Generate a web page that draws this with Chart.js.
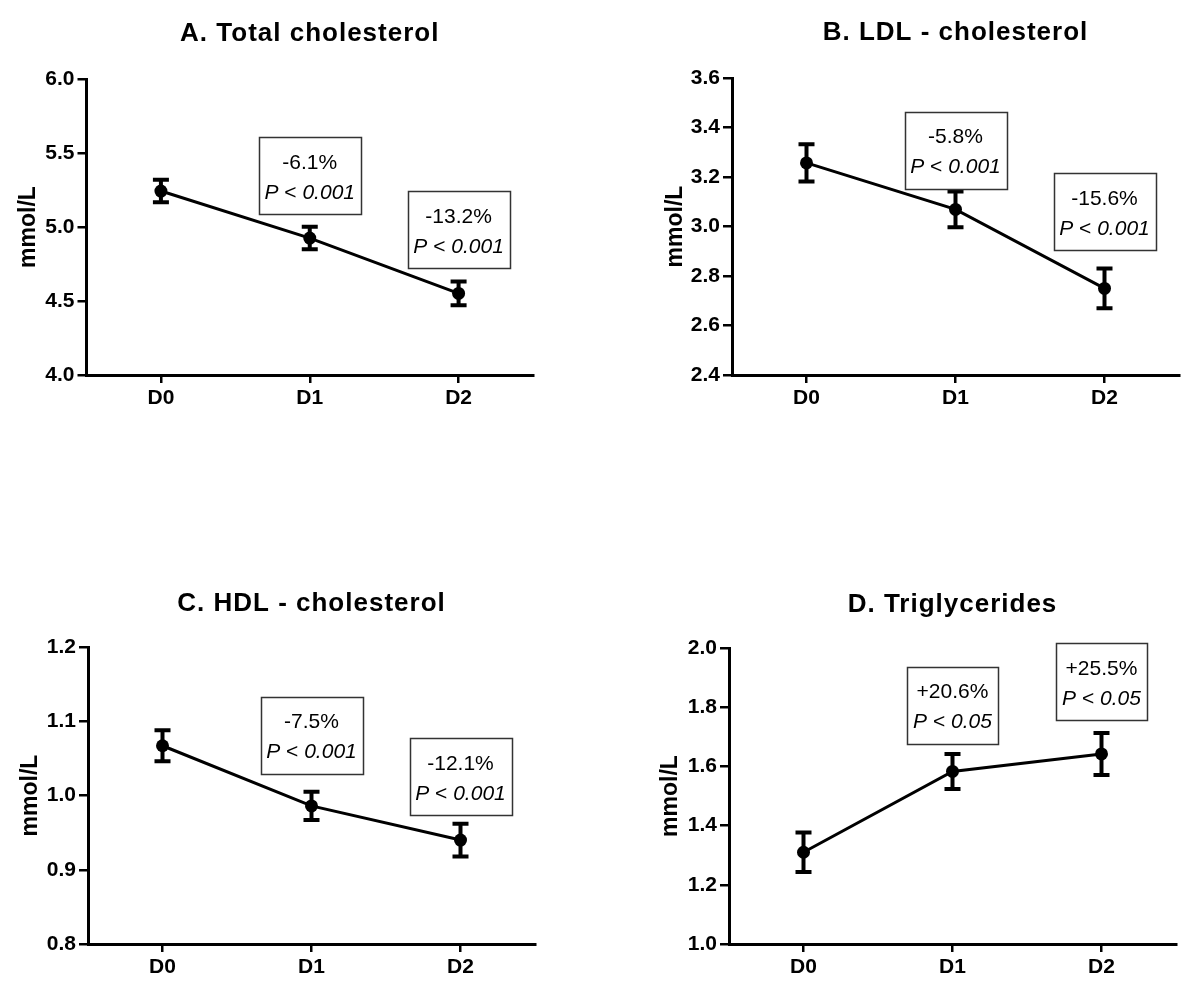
<!DOCTYPE html>
<html><head><meta charset="utf-8">
<script src="https://cdn.jsdelivr.net/npm/chart.js@4/dist/chart.umd.min.js"></script>
<style>
html,body{margin:0;padding:0;background:#fff;}
#wrap{position:relative;width:1200px;height:992px;background:#fff;overflow:hidden;}
canvas{position:absolute;}
</style></head><body><div id="wrap">
<canvas id="cA" width="600" height="440"></canvas>
<canvas id="cB" width="600" height="440"></canvas>
<canvas id="cC" width="600" height="432"></canvas>
<canvas id="cD" width="600" height="432"></canvas>
</div>
<script>
// ---------- data ----------
const categories = ['D0', 'D1', 'D2'];
const panelTitles = ['A. Total cholesterol', 'B. LDL - cholesterol', 'C. HDL - cholesterol', 'D. Triglycerides'];
const yAxisTitle = 'mmol/L';

const totalMean = [5.243, 4.925, 4.551];
const totalSem  = [0.076, 0.076, 0.080];
const ldlMean   = [3.257, 3.069, 2.750];
const ldlSem    = [0.075, 0.072, 0.080];
const hdlMean   = [1.067, 0.986, 0.940];
const hdlSem    = [0.021, 0.019, 0.022];
const tgMean    = [1.310, 1.583, 1.642];
const tgSem     = [0.067, 0.059, 0.071];

const totalTicks = ['4.0', '4.5', '5.0', '5.5', '6.0'];
const ldlTicks   = ['2.4', '2.6', '2.8', '3.0', '3.2', '3.4', '3.6'];
const hdlTicks   = ['0.8', '0.9', '1.0', '1.1', '1.2'];
const tgTicks    = ['1.0', '1.2', '1.4', '1.6', '1.8', '2.0'];

const totalChange = ['', '-6.1%', '-13.2%'];
const totalP      = ['', '0.001', '0.001'];
const ldlChange   = ['', '-5.8%', '-15.6%'];
const ldlP        = ['', '0.001', '0.001'];
const hdlChange   = ['', '-7.5%', '-12.1%'];
const hdlP        = ['', '0.001', '0.001'];
const tgChange    = ['', '+20.6%', '+25.5%'];
const tgP         = ['', '0.05', '0.05'];

// ---------- layout (positions, not data) ----------
const FONT = "'Liberation Sans', Arial, Helvetica, sans-serif";
const layoutA = {left: 0,   top: 0,   H: 440, plotLeft: 86.5, plotRight: 533, plotTop: 79, plotBottom: 375, yTitleX: 29, titleGap: 45, boxY: [null, 5.345, 4.98]};
const layoutB = {left: 600, top: 0,   H: 440, plotLeft: 132,  plotRight: 579, plotTop: 78, plotBottom: 375, yTitleX: 76, titleGap: 45, boxY: [null, 3.309, 3.059]};
const layoutC = {left: 0,   top: 560, H: 432, plotLeft: 88,   plotRight: 535, plotTop: 87, plotBottom: 384, yTitleX: 31, titleGap: 43, boxY: [null, 1.081, 1.025]};
const layoutD = {left: 600, top: 560, H: 432, plotLeft: 129,  plotRight: 576, plotTop: 88, plotBottom: 384, yTitleX: 71, titleGap: 43, boxY: [null, 1.807, 1.886]};

const errorBarPlugin = {
  id: 'errorBars',
  afterDatasetsDraw(chart, args, opts) {
    const ctx = chart.ctx, xs = chart.scales.x, ys = chart.scales.y;
    ctx.save();
    ctx.strokeStyle = '#000';
    opts.mean.forEach((m, i) => {
      const x = xs.getPixelForValue(i);
      const yt = ys.getPixelForValue(m + opts.sem[i]);
      const yb = ys.getPixelForValue(m - opts.sem[i]);
      ctx.lineWidth = 4;
      ctx.beginPath(); ctx.moveTo(x, yt); ctx.lineTo(x, yb); ctx.stroke();
      ctx.lineWidth = 4;
      ctx.beginPath();
      ctx.moveTo(x - 8, yt); ctx.lineTo(x + 8, yt);
      ctx.moveTo(x - 8, yb); ctx.lineTo(x + 8, yb);
      ctx.stroke();
    });
    ctx.restore();
  }
};

const annotPlugin = {
  id: 'annotBoxes',
  afterDraw(chart, args, opts) {
    const ctx = chart.ctx, xs = chart.scales.x, ys = chart.scales.y;
    ctx.save();
    opts.change.forEach((txt, i) => {
      if (!txt) return;
      const cx = xs.getPixelForValue(i);
      const cy = ys.getPixelForValue(opts.boxY[i]);
      const reg = '21px ' + FONT, ita = 'italic 21px ' + FONT;
      ctx.font = ita; const wP = ctx.measureText('P').width; const wV = ctx.measureText(opts.p[i]).width;
      ctx.font = reg; const wL = ctx.measureText(' < ').width;
      const tw = wP + wL + wV;
      const bw = Math.round(tw + 12), bh = 77;
      ctx.strokeStyle = '#333'; ctx.lineWidth = 1.5;
      ctx.strokeRect(Math.round(cx - bw / 2) + 0.5, Math.round(cy - bh / 2) + 0.5, bw, bh);
      ctx.fillStyle = '#000';
      ctx.textBaseline = 'middle';
      ctx.textAlign = 'center';
      ctx.font = reg;
      ctx.fillText(txt, cx, cy - 13);
      ctx.textAlign = 'left';
      let x0 = cx - tw / 2;
      const y2 = cy + 17;
      ctx.font = ita; ctx.fillText('P', x0, y2); x0 += wP;
      ctx.font = reg; ctx.fillText(' < ', x0, y2); x0 += wL;
      ctx.font = ita; ctx.fillText(opts.p[i], x0, y2);
    });
    ctx.restore();
  }
};

const titlePlugin = {
  id: 'panelTitle',
  afterDraw(chart, args, opts) {
    const ctx = chart.ctx, a = chart.chartArea;
    ctx.save();
    ctx.font = 'bold 26px ' + FONT;
    try { ctx.letterSpacing = '1px'; } catch (e) {}
    ctx.fillStyle = '#000';
    ctx.textAlign = 'center';
    ctx.textBaseline = 'middle';
    ctx.fillText(opts.text, (a.left + a.right) / 2, a.top - opts.gap);
    ctx.restore();
  }
};

function makePanel(id, L, title, mean, sem, tickLabels, change, pvals) {
  const cv = document.getElementById(id);
  cv.style.left = L.left + 'px';
  cv.style.top = L.top + 'px';
  const yTitleSize = 23, yTitleLH = yTitleSize * 1.2;
  const padLeft = L.yTitleX - yTitleLH / 2;
  const xAxisH = 40;
  const tickVals = tickLabels.map(parseFloat);
  new Chart(cv, {
    type: 'line',
    data: {
      labels: categories,
      datasets: [{
        data: mean,
        borderColor: '#000',
        borderWidth: 3,
        pointRadius: 6.5,
        pointBackgroundColor: '#000',
        pointBorderColor: '#000',
        pointBorderWidth: 0,
        tension: 0,
        clip: false
      }]
    },
    options: {
      responsive: false,
      animation: false,
      devicePixelRatio: 1,
      layout: {padding: {left: padLeft, right: 600 - L.plotRight, top: L.plotTop, bottom: L.H - L.plotBottom - xAxisH}},
      plugins: {
        legend: {display: false},
        tooltip: {enabled: false},
        title: {display: false},
        errorBars: {mean: mean, sem: sem},
        annotBoxes: {change: change, p: pvals, boxY: L.boxY},
        panelTitle: {text: title, gap: L.titleGap}
      },
      scales: {
        x: {
          type: 'category',
          offset: true,
          grid: {display: true, drawOnChartArea: false, drawTicks: true, tickLength: 8, lineWidth: 2.5, color: '#000'},
          border: {display: true, width: 3, color: '#000'},
          ticks: {color: '#000', font: {family: FONT, size: 21, weight: 'bold'}, padding: 3, maxRotation: 0, autoSkip: false},
          afterFit: s => { s.height = xAxisH; }
        },
        y: {
          min: tickVals[0],
          max: tickVals[tickVals.length - 1],
          afterBuildTicks: s => { s.ticks = tickVals.map(v => ({value: v})); },
          grid: {display: true, drawOnChartArea: false, drawTicks: true, tickLength: 9, lineWidth: 2.5, color: '#000'},
          border: {display: true, width: 3, color: '#000'},
          ticks: {
            color: '#000', font: {family: FONT, size: 21, weight: 'bold'}, padding: 3,
            callback: v => tickLabels[tickVals.indexOf(v)] !== undefined ? tickLabels[tickVals.indexOf(v)] : Number(v).toFixed(1)
          },
          title: {display: true, text: yAxisTitle, color: '#000', font: {family: FONT, size: yTitleSize, weight: 'bold'}, padding: 0},
          afterFit: s => { s.width = L.plotLeft - padLeft; }
        }
      }
    },
    plugins: [errorBarPlugin, annotPlugin, titlePlugin]
  });
}

makePanel('cA', layoutA, panelTitles[0], totalMean, totalSem, totalTicks, totalChange, totalP);
makePanel('cB', layoutB, panelTitles[1], ldlMean, ldlSem, ldlTicks, ldlChange, ldlP);
makePanel('cC', layoutC, panelTitles[2], hdlMean, hdlSem, hdlTicks, hdlChange, hdlP);
makePanel('cD', layoutD, panelTitles[3], tgMean, tgSem, tgTicks, tgChange, tgP);
</script>
</body></html>
